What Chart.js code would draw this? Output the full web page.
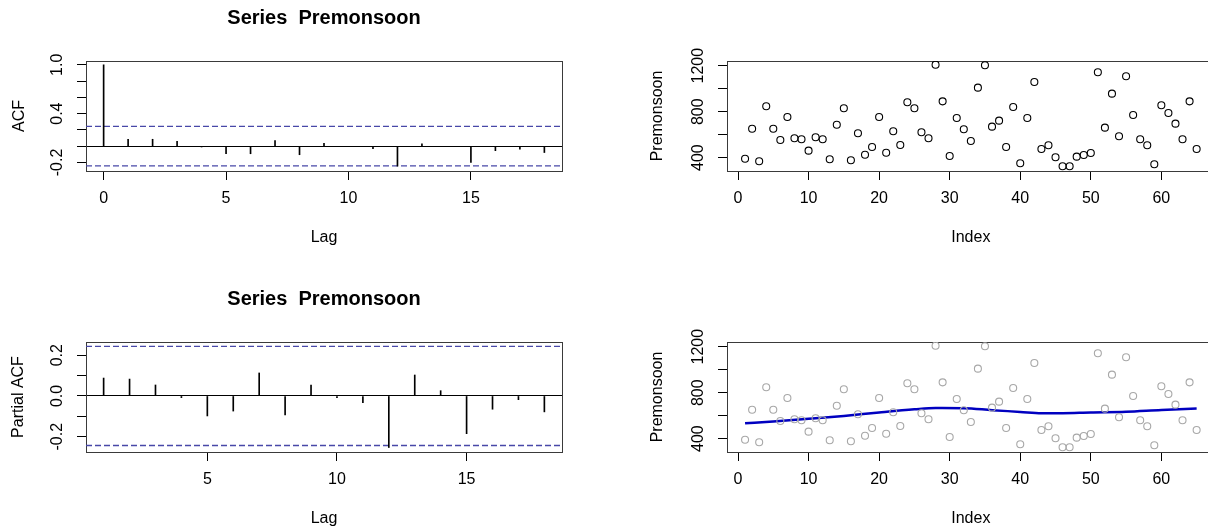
<!DOCTYPE html>
<html>
<head>
<meta charset="utf-8">
<script src="https://cdn.jsdelivr.net/npm/chart.js@4.4.1/dist/chart.umd.min.js"></script>
<style>
html, body { margin: 0; padding: 0; background: #fff; overflow: hidden; width: 1208px; height: 529px; }
canvas { position: absolute; }
</style>
</head>
<body>
<canvas id="acf" width="648" height="264" style="left:0;top:0"></canvas>
<canvas id="pacf" width="648" height="264" style="left:0;top:281px"></canvas>
<canvas id="scatter" width="656" height="264" style="left:604px;top:0"></canvas>
<canvas id="smooth" width="656" height="264" style="left:604px;top:281px"></canvas>
<script>
// ACF / PACF of Premonsoon
var lags = [0, 1, 2, 3, 4, 5, 6, 7, 8, 9, 10, 11, 12, 13, 14, 15, 16, 17, 18];
var acfValues = [1, 0.085, 0.085, 0.06, -0.01, -0.093, -0.093, 0.07, -0.105, 0.035, -0.005, -0.03, -0.245, 0.03, -0.005, -0.2, -0.055, -0.037, -0.078];
var pacfLags = [1, 2, 3, 4, 5, 6, 7, 8, 9, 10, 11, 12, 13, 14, 15, 16, 17, 18];
var pacfValues = [0.088, 0.083, 0.054, -0.008, -0.098, -0.074, 0.113, -0.093, 0.054, -0.008, -0.033, -0.253, 0.103, 0.026, -0.185, -0.065, -0.018, -0.078];
var ciBound = 0.2431;
var acfXTicks = [0, 5, 10, 15];
var pacfXTicks = [5, 10, 15];
var acfYTicks = [-0.2, 0, 0.2, 0.4, 0.6, 0.8, 1.0];
var acfYLabels = ["-0.2", "", "", "0.4", "", "", "1.0"];
var pacfYTicks = [-0.2, -0.1, 0, 0.1, 0.2];
var pacfYLabels = ["-0.2", "", "0.0", "", "0.2"];

// Premonsoon series
var premonsoon = [391, 652, 369, 847, 652, 554, 754, 569, 560, 461, 577, 560, 386, 687, 830, 377, 612, 426, 493, 754,
    443, 630, 510, 882, 830, 621, 569, 1209, 890, 415, 745, 647, 545, 1009, 1204, 670, 722, 493, 841, 351,
    745, 1058, 476, 508, 403, 325, 325, 409, 423, 441, 1143, 661, 957, 586, 1108, 771, 560, 508, 343, 856,
    789, 696, 560, 890, 476];
var smoothIndex = [1, 5, 10, 15, 20, 25, 28, 32, 36, 40, 43, 46, 50, 55, 60, 65];
var smoothValues = [534, 550, 573, 598, 628, 655, 666, 665, 648, 633, 621, 622, 628, 634, 650, 662];
var indexTicks = [0, 10, 20, 30, 40, 50, 60];
var premTicks = [400, 600, 800, 1000, 1200];
var premLabels = ["400", "", "800", "", "1200"];

var FONT = "'Liberation Sans', Arial, sans-serif";
var BOX = "#3a3a3a";
var CI = "#4848a8";
Chart.defaults.font.family = FONT;
Chart.defaults.color = "#000";

function tickList(vals) {
    return function (s) { s.ticks = vals.map(v => ({ value: v })); };
}

function makeOptions(p) {
    return {
        responsive: false,
        animation: false,
        events: [],
        layout: { padding: { top: p.title ? 0 : 61 }, autoPadding: false },
        plugins: {
            legend: { display: false },
            tooltip: { enabled: false },
            title: {
                display: !!p.title,
                text: p.title,
                font: { size: 20, weight: "bold" },
                color: "#000",
                padding: { top: 6, bottom: 31 }
            }
        },
        scales: {
            x: {
                type: "linear", position: "bottom", min: p.xMin, max: p.xMax, offset: false,
                afterBuildTicks: tickList(p.xTicks),
                afterFit: s => { s.height = 93; },
                grid: { drawOnChartArea: false, offset: false, tickLength: 9, tickColor: "#000" },
                border: { color: BOX },
                ticks: { padding: 9, font: { size: 16 }, maxRotation: 0, autoSkip: false, callback: v => String(v) },
                title: { display: true, text: p.xTitle, font: { size: 16 }, padding: { bottom: 17 } }
            },
            y: {
                type: "linear", position: "left", min: p.yMin, max: p.yMax,
                afterBuildTicks: tickList(p.yTicks),
                afterFit: s => { s.width = p.yWidth; },
                grid: {
                    drawOnChartArea: p.zeroLine,
                    color: c => (c.tick && c.tick.value === 0) ? "#000" : "rgba(0,0,0,0)",
                    tickLength: 9, tickColor: "#000"
                },
                border: { color: BOX },
                ticks: {
                    padding: p.yPad, font: { size: 16 }, minRotation: 90, maxRotation: 90,
                    crossAlign: "center", autoSkip: false,
                    callback: (v, i) => p.yLabels[p.yTicks.indexOf(v)] || ""
                },
                title: { display: true, text: p.yTitle, font: { size: 16 }, padding: { top: p.yTitlePad } }
            },
            x2: {
                type: "linear", position: "top", min: p.xMin, max: p.xMax,
                afterFit: s => { s.height = 0; },
                grid: { display: false, drawTicks: false },
                border: { color: BOX },
                ticks: { display: false }
            },
            y2: {
                type: "linear", position: "right", min: p.yMin, max: p.yMax,
                afterFit: s => { s.width = p.y2Width; },
                grid: { display: false, drawTicks: false },
                border: { color: BOX },
                ticks: { display: false }
            }
        }
    };
}

function ciLines(xMin, xMax) {
    return [ciBound, -ciBound].map(b => ({
        type: "line",
        data: [{ x: xMin, y: b }, { x: xMax, y: b }],
        borderColor: CI, borderWidth: 1.3, borderDash: [6, 3], pointRadius: 0
    }));
}

// ACF
new Chart(document.getElementById("acf"), {
    type: "bar",
    data: {
        datasets: [{
            type: "bar",
            data: lags.map((l, i) => ({ x: l, y: acfValues[i] })),
            backgroundColor: "#000", barThickness: 1
        }].concat(ciLines(-0.72, 18.72))
    },
    options: makeOptions({
        title: "Series  Premonsoon", xTitle: "Lag", yTitle: "ACF",
        xMin: -0.72, xMax: 18.72, xTicks: acfXTicks,
        yMin: -0.305, yMax: 1.047, yTicks: acfYTicks, yLabels: acfYLabels,
        yWidth: 86, y2Width: 86, yPad: 5.6, yTitlePad: 9.5, zeroLine: true
    })
});

// PACF
new Chart(document.getElementById("pacf"), {
    type: "bar",
    data: {
        datasets: [{
            type: "bar",
            data: pacfLags.map((l, i) => ({ x: l, y: pacfValues[i] })),
            backgroundColor: "#000", barThickness: 1
        }].concat(ciLines(0.32, 18.68))
    },
    options: makeOptions({
        title: "Series  Premonsoon", xTitle: "Lag", yTitle: "Partial ACF",
        xMin: 0.32, xMax: 18.68, xTicks: pacfXTicks,
        yMin: -0.275, yMax: 0.265, yTicks: pacfYTicks, yLabels: pacfYLabels,
        yWidth: 86, y2Width: 86, yPad: 5.6, yTitlePad: 8.5, zeroLine: true
    })
});

// scatter of the series
var points = premonsoon.map((v, i) => ({ x: i + 1, y: v }));
new Chart(document.getElementById("scatter"), {
    type: "scatter",
    data: {
        datasets: [{
            data: points,
            pointStyle: "circle", pointRadius: 3.5, borderWidth: 1.1,
            borderColor: "#000", backgroundColor: "rgba(0,0,0,0)"
        }]
    },
    options: makeOptions({
        title: "", xTitle: "Index", yTitle: "Premonsoon",
        xMin: -1.56, xMax: 67.56, xTicks: indexTicks,
        yMin: 284, yMax: 1241, yTicks: premTicks, yLabels: premLabels,
        yWidth: 123, y2Width: 45.3, yPad: 1.6, yTitlePad: 44, zeroLine: false
    })
});

// same series in grey with the smoothed line
new Chart(document.getElementById("smooth"), {
    type: "scatter",
    data: {
        datasets: [{
            data: points,
            pointStyle: "circle", pointRadius: 3.5, borderWidth: 1.1,
            borderColor: "#a8a8a8", backgroundColor: "rgba(0,0,0,0)"
        }, {
            type: "line",
            data: smoothIndex.map((x, i) => ({ x: x, y: smoothValues[i] })),
            borderColor: "#0000c0", borderWidth: 2.5, pointRadius: 0,
            cubicInterpolationMode: "monotone"
        }]
    },
    options: makeOptions({
        title: "", xTitle: "Index", yTitle: "Premonsoon",
        xMin: -1.56, xMax: 67.56, xTicks: indexTicks,
        yMin: 284, yMax: 1241, yTicks: premTicks, yLabels: premLabels,
        yWidth: 123, y2Width: 45.3, yPad: 1.6, yTitlePad: 44, zeroLine: false
    })
});
</script>
</body>
</html>
